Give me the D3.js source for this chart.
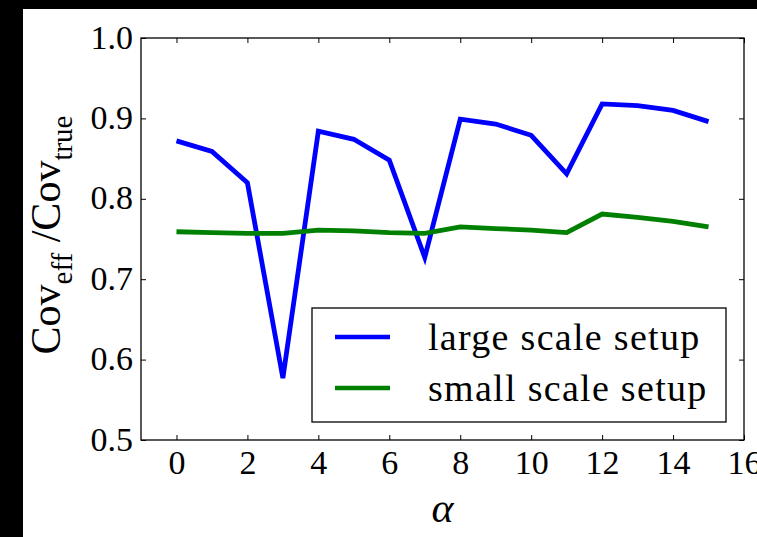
<!DOCTYPE html>
<html>
<head>
<meta charset="utf-8">
<script src="https://cdn.jsdelivr.net/npm/d3@7"></script>
<style>
  html, body { margin: 0; padding: 0; background: #000; }
  svg { display: block; }
</style>
</head>
<body>
<svg id="chart" width="757" height="537"></svg>
<script>
// Ratio of effective to true covariance versus alpha, for two setups
const alpha = [0, 1, 2, 3, 4, 5, 6, 7, 8, 9, 10, 11, 12, 13, 14, 15];
const largeScale = [0.872, 0.859, 0.820, 0.577, 0.884, 0.874, 0.848, 0.727, 0.899, 0.893, 0.879, 0.831, 0.918, 0.916, 0.910, 0.896];
const smallScale = [0.759, 0.758, 0.757, 0.757, 0.761, 0.760, 0.758, 0.757, 0.765, 0.763, 0.761, 0.758, 0.781, 0.777, 0.772, 0.765];
const xTicks = [0, 2, 4, 6, 8, 10, 12, 14, 16];
const yTicks = [0.5, 0.6, 0.7, 0.8, 0.9, 1.0];
const seriesNames = ["large scale setup", "small scale setup"];
const seriesColors = ["#0000ff", "#008000"];

const SERIF = '"Tinos", "Times New Roman", "DejaVu Serif", serif';
const svg = d3.select("#chart");
const W = 757, H = 537;

// page frame
svg.append("rect").attr("width", W).attr("height", H).attr("fill", "#000");
svg.append("rect").attr("x", 23).attr("y", 9).attr("width", W - 23).attr("height", H - 9).attr("fill", "#fff");

const plotL = 141, plotR = 744, plotT = 38, plotB = 440;
const x = d3.scaleLinear().domain([-1, 16]).range([plotL, plotR]);
const y = d3.scaleLinear().domain([0.5, 1.0]).range([plotB, plotT]);

// data lines
const line = d3.line().x((d, i) => x(alpha[i])).y(d => y(d));
[largeScale, smallScale].forEach((vals, k) => {
  svg.append("path")
    .datum(vals)
    .attr("d", line)
    .attr("fill", "none")
    .attr("stroke", seriesColors[k])
    .attr("stroke-width", 4.8)
    .attr("stroke-linejoin", "miter");
});

// axes with inward ticks on all four sides
const tickLen = 5;
const fmtY = d3.format(".1f");
const axBottom = svg.append("g").attr("transform", `translate(0,${plotB})`)
  .call(d3.axisBottom(x).tickValues(xTicks).tickSizeInner(-tickLen).tickSizeOuter(0).tickPadding(0).tickFormat(d3.format("d")));
const axTop = svg.append("g").attr("transform", `translate(0,${plotT})`)
  .call(d3.axisTop(x).tickValues(xTicks).tickSizeInner(-tickLen).tickSizeOuter(0).tickFormat(""));
const axLeft = svg.append("g").attr("transform", `translate(${plotL},0)`)
  .call(d3.axisLeft(y).tickValues(yTicks).tickSizeInner(-tickLen).tickSizeOuter(0).tickFormat(fmtY));
const axRight = svg.append("g").attr("transform", `translate(${plotR},0)`)
  .call(d3.axisRight(y).tickValues(yTicks).tickSizeInner(-tickLen).tickSizeOuter(0).tickFormat(""));

[axBottom, axTop, axLeft, axRight].forEach(g => {
  g.attr("font-family", null).attr("font-size", null);
  g.select(".domain").remove();
  g.selectAll(".tick line").attr("stroke", "#000").attr("stroke-width", 1);
});

axBottom.selectAll(".tick text")
  .style("font-family", SERIF).style("font-size", "34px").attr("fill", "#000")
  .attr("y", 0).attr("dy", 0).attr("transform", "translate(0,34)");
axLeft.selectAll(".tick text")
  .style("font-family", SERIF).style("font-size", "34px").attr("fill", "#000")
  .attr("x", -8).attr("dy", 0).attr("transform", "translate(0,10)");

// plot frame
svg.append("rect")
  .attr("x", plotL).attr("y", plotT)
  .attr("width", plotR - plotL).attr("height", plotB - plotT)
  .attr("fill", "none").attr("stroke", "#000").attr("stroke-width", 1.3);

// axis titles
svg.append("text")
  .attr("x", (plotL + plotR) / 2).attr("y", 522)
  .attr("text-anchor", "middle")
  .style("font-family", SERIF).style("font-size", "42px").style("font-style", "italic")
  .text("α");

const yl = svg.append("text")
  .attr("transform", `translate(60,${(plotT + plotB) / 2 - 4}) rotate(-90)`)
  .attr("text-anchor", "middle")
  .style("font-family", SERIF).style("font-size", "42px");
yl.append("tspan").text("Cov");
yl.append("tspan").style("font-size", "29px").attr("dy", 12).text("eff");
yl.append("tspan").attr("dy", -12).text(" /Cov");
yl.append("tspan").style("font-size", "29px").attr("dy", 12).text("true");

// legend
const lg = svg.append("g");
lg.append("rect")
  .attr("x", 312).attr("y", 308).attr("width", 414).attr("height", 114)
  .attr("fill", "#fff").attr("stroke", "#000").attr("stroke-width", 1.3);
const legY = [337, 388];
seriesNames.forEach((name, k) => {
  lg.append("line")
    .attr("x1", 335).attr("x2", 390).attr("y1", legY[k]).attr("y2", legY[k])
    .attr("stroke", seriesColors[k]).attr("stroke-width", 4.5);
  lg.append("text")
    .attr("x", 428).attr("y", legY[k] + 13)
    .style("font-family", SERIF).style("font-size", "38px").style("letter-spacing", "1.3px")
    .text(name);
});
</script>
</body>
</html>
